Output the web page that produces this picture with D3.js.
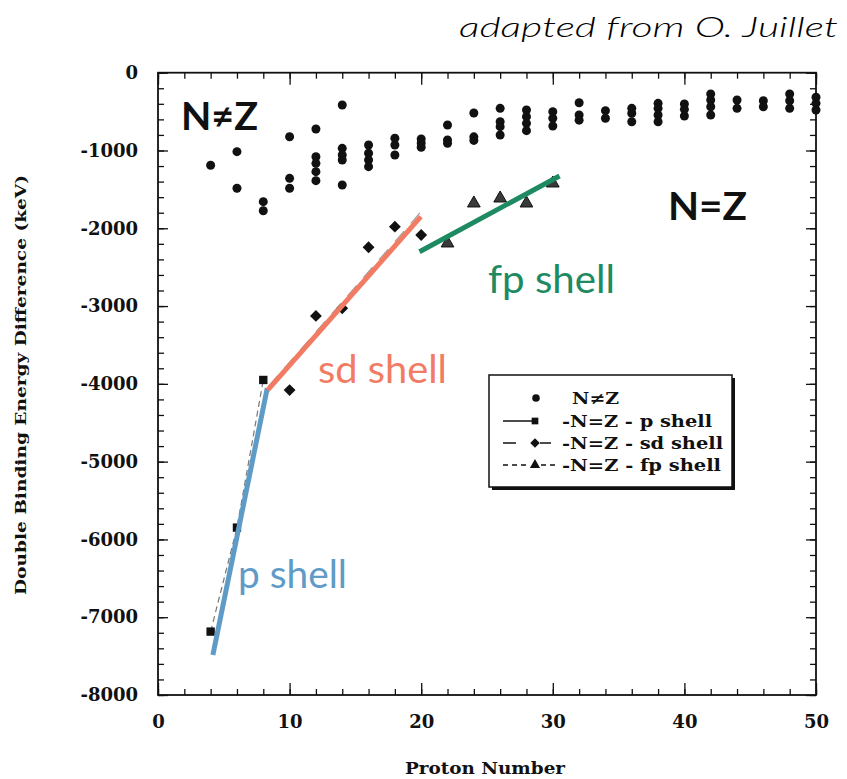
<!DOCTYPE html>
<html>
<head>
<meta charset="utf-8">
<script src="https://cdn.jsdelivr.net/npm/d3@7"></script>
<style>
  html, body { margin: 0; padding: 0; background: #fff; }
  svg { display: block; }
</style>
</head>
<body>
<svg id="chart" width="847" height="779"></svg>
<script>
// ---------- DATA ----------
// N != Z points: proton number and energy (keV)
const nzZ = [4, 6, 6, 8, 8, 10, 10, 10, 12, 12, 12, 12, 12, 14, 14, 14, 14, 14,
  16, 16, 16, 16, 18, 18, 18, 20, 20, 20, 22, 22, 22, 24, 24, 24, 26, 26, 26, 26,
  28, 28, 28, 28, 30, 30, 30, 32, 32, 32, 34, 34, 36, 36, 36, 38, 38, 38, 38,
  40, 40, 40, 42, 42, 42, 42, 44, 44, 46, 46, 48, 48, 48, 50, 50, 50];
const nzE = [-1190, -1015, -1486, -1658, -1774, -823, -1358, -1486, -724, -1080, -1165, -1272, -1388, -415, -972, -1058, -1122, -1443,
  -929, -1036, -1122, -1208, -843, -929, -1058, -852, -905, -959, -672, -865, -908, -518, -825, -870, -458, -630, -694, -801,
  -479, -565, -651, -745, -501, -586, -685, -386, -544, -610, -488, -586, -458, -522, -630, -394, -458, -544, -630,
  -402, -471, -557, -274, -351, -437, -544, -351, -458, -360, -437, -274, -360, -458, -316, -394, -479];
// N = Z p shell (squares)
const pZ = [4, 6, 8];
const pE = [-7185, -5848, -3950];
// N = Z sd shell (diamonds)
const sdZ = [10, 12, 14, 16, 18, 20];
const sdE = [-4080, -3127, -3029, -2244, -1979, -2086];
// N = Z fp shell (triangles)
const fpZ = [22, 24, 26, 28, 30];
const fpE = [-2193, -1679, -1615, -1679, -1422];
// original fit lines (black, mostly hidden)
const fitPZ = [4, 6, 8];        const fitPE = [-7185, -5848, -3950];
const fitSdZ = [8.4, 20.25];    const fitSdE = [-4030, -1735];
const fitFpZ = [20, 30.3];      const fitFpE = [-2270, -1360];
// coloured trend lines added on top
const bluZ = [4.17, 8.3];    const bluE = [-7485, -4057];
const salZ = [8.33, 19.97];  const salE = [-4080, -1851];
const grnZ = [19.87, 30.51]; const grnE = [-2301, -1328];
// axes
const xMajor = [0, 10, 20, 30, 40, 50];
const yMajor = [0, -1000, -2000, -3000, -4000, -5000, -6000, -7000, -8000];
const legendLabels = ["N\u2260Z", "-N=Z - p shell", "-N=Z - sd shell", "-N=Z - fp shell"];

// ---------- LAYOUT ----------
const svg = d3.select("#chart");
const L = 158, R = 816, T = 72.7, B = 695;
const x = d3.scaleLinear().domain([0, 50]).range([L, R]);
const y = d3.scaleLinear().domain([-8000, 0]).range([B, T]);
const serif = "'DejaVu Serif', serif";
const fmt = d => String(d);

const xMinor = d3.range(0, 50.01, 2);
const yMinor = d3.range(-8000, 0.01, 200);

function styleAxis(g) {
  g.select(".domain").remove();
  g.selectAll(".tick line").attr("stroke", "#111").attr("stroke-width", 1.3);
  g.selectAll(".tick text").attr("fill", "#111").attr("font-family", serif)
    .attr("font-weight", "bold").attr("font-size", 18);
}

// minor ticks
svg.append("g").attr("transform", `translate(${L},0)`)
  .call(d3.axisLeft(y).tickValues(yMinor).tickSize(-6).tickFormat(""))
  .call(styleAxis);
svg.append("g").attr("transform", `translate(${R},0)`)
  .call(d3.axisRight(y).tickValues(yMinor).tickSize(-6).tickFormat(""))
  .call(styleAxis);
svg.append("g").attr("transform", `translate(0,${B})`)
  .call(d3.axisBottom(x).tickValues(xMinor).tickSize(-6).tickFormat(""))
  .call(styleAxis);
svg.append("g").attr("transform", `translate(0,${T})`)
  .call(d3.axisTop(x).tickValues(xMinor).tickSize(-6).tickFormat(""))
  .call(styleAxis);
// major ticks with labels
svg.append("g").attr("transform", `translate(${L},0)`)
  .call(d3.axisLeft(y).tickValues(yMajor).tickSize(-10).tickPadding(20).tickFormat(fmt))
  .call(styleAxis);
svg.append("g").attr("transform", `translate(${R},0)`)
  .call(d3.axisRight(y).tickValues(yMajor).tickSize(-10).tickFormat(""))
  .call(styleAxis);
svg.append("g").attr("transform", `translate(0,${B})`)
  .call(d3.axisBottom(x).tickValues(xMajor).tickSize(-12).tickPadding(20).tickFormat(fmt))
  .call(styleAxis);
svg.append("g").attr("transform", `translate(0,${T})`)
  .call(d3.axisTop(x).tickValues(xMajor).tickSize(-12).tickFormat(""))
  .call(styleAxis);

// frame
svg.append("rect").attr("x", L).attr("y", T).attr("width", R - L).attr("height", B - T)
  .attr("fill", "none").attr("stroke", "#111").attr("stroke-width", 1.8);

// axis titles
svg.append("text").attr("transform", `translate(26,385) rotate(-90)`)
  .attr("text-anchor", "middle").attr("font-family", serif).attr("font-weight", "bold")
  .attr("font-size", 15.5).attr("fill", "#111")
  .attr("textLength", 420).attr("lengthAdjust", "spacingAndGlyphs")
  .text("Double Binding Energy Difference (keV)");
svg.append("text").attr("x", 485).attr("y", 774)
  .attr("text-anchor", "middle").attr("font-family", serif).attr("font-weight", "bold")
  .attr("font-size", 16).attr("fill", "#111")
  .attr("textLength", 160).attr("lengthAdjust", "spacingAndGlyphs")
  .text("Proton Number");

// source note
svg.append("text").attr("x", 838).attr("y", 37).attr("text-anchor", "end")
  .attr("font-family", "Lato, sans-serif").attr("font-style", "italic").attr("font-weight", 300)
  .attr("font-size", 28).attr("fill", "#000")
  .attr("textLength", 379).attr("lengthAdjust", "spacingAndGlyphs")
  .text("adapted from O. Juillet");

// original fit lines (faint, mostly hidden under the coloured lines)
const line = d3.line().x(d => x(d[0])).y(d => y(d[1]));
function pairs(a, b) { return a.map((v, i) => [v, b[i]]); }
svg.append("path").datum(pairs(fitPZ, fitPE)).attr("d", line)
  .attr("fill", "none").attr("stroke", "#777").attr("stroke-width", 1.2).attr("stroke-dasharray", "6,4");
svg.append("path").datum(pairs(fitSdZ, fitSdE)).attr("d", line)
  .attr("fill", "none").attr("stroke", "#999").attr("stroke-width", 1.1).attr("stroke-dasharray", "14,10");
svg.append("path").datum(pairs(fitFpZ, fitFpE)).attr("d", line)
  .attr("fill", "none").attr("stroke", "#999").attr("stroke-width", 1.1).attr("stroke-dasharray", "6,6");

// N != Z dots
svg.append("g").selectAll("circle").data(pairs(nzZ, nzE)).join("circle")
  .attr("cx", d => x(d[0])).attr("cy", d => y(d[1])).attr("r", 4.5).attr("fill", "#111");

// symbols
const sq = d3.symbol().type(d3.symbolSquare).size(70);
const tr = d3.symbol().type(d3.symbolTriangle).size(70);
svg.append("g").selectAll("path").data(pairs(pZ, pE)).join("path")
  .attr("transform", d => `translate(${x(d[0])},${y(d[1])})`).attr("d", sq).attr("fill", "#111");
svg.append("g").selectAll("path").data(pairs(sdZ, sdE)).join("path")
  .attr("transform", d => `translate(${x(d[0])},${y(d[1])}) rotate(45)`).attr("d", sq).attr("fill", "#111");
svg.append("g").selectAll("path").data(pairs(fpZ, fpE)).join("path")
  .attr("transform", d => `translate(${x(d[0])},${y(d[1])})`).attr("d", tr)
  .attr("fill", "#3a3a3a").attr("stroke", "#111").attr("stroke-width", 1);

// coloured trend lines
const blue = "#5f9bc7", salmon = "#f27b64", green = "#1d8a62";
svg.append("path").datum(pairs(bluZ, bluE)).attr("d", line)
  .attr("fill", "none").attr("stroke", blue).attr("stroke-width", 5);
svg.append("path").datum(pairs(salZ, salE)).attr("d", line)
  .attr("fill", "none").attr("stroke", salmon).attr("stroke-width", 5);
svg.append("path").datum(pairs(grnZ, grnE)).attr("d", line)
  .attr("fill", "none").attr("stroke", green).attr("stroke-width", 5);

// annotations
const hand = "Lato, 'Noto Sans', sans-serif";
function note(tx, px, py, col, len, wt) {
  svg.append("text").attr("x", px).attr("y", py).attr("font-family", hand)
    .attr("font-weight", wt).attr("font-size", 38).attr("fill", col)
    .attr("textLength", len).attr("lengthAdjust", "spacingAndGlyphs").text(tx);
}
note("N\u2260Z", 181, 129.5, "#111", 77, 700);
note("N=Z", 668, 220, "#111", 79, 700);
note("fp shell", 488, 293, green, 127, 400);
note("sd shell", 318, 383, salmon, 129, 400);
note("p shell", 238, 588, blue, 109, 400);

// legend
const lg = svg.append("g");
lg.append("rect").attr("x", 492).attr("y", 378).attr("width", 243).attr("height", 112).attr("fill", "#111");
lg.append("rect").attr("x", 489).attr("y", 375).attr("width", 243).attr("height", 112)
  .attr("fill", "#fff").attr("stroke", "#111").attr("stroke-width", 1.5);
const rowY = [398, 421, 443, 465];
lg.append("circle").attr("cx", 536).attr("cy", rowY[0]).attr("r", 3.8).attr("fill", "#111");
lg.append("line").attr("x1", 503).attr("x2", 533).attr("y1", rowY[1]).attr("y2", rowY[1])
  .attr("stroke", "#111").attr("stroke-width", 1.5);
lg.append("path").attr("transform", `translate(535,${rowY[1]})`).attr("d", d3.symbol().type(d3.symbolSquare).size(45)).attr("fill", "#111");
lg.append("line").attr("x1", 503).attr("x2", 516).attr("y1", rowY[2]).attr("y2", rowY[2])
  .attr("stroke", "#111").attr("stroke-width", 1.5);
lg.append("line").attr("x1", 540).attr("x2", 551).attr("y1", rowY[2]).attr("y2", rowY[2])
  .attr("stroke", "#111").attr("stroke-width", 1.5);
lg.append("path").attr("transform", `translate(535,${rowY[2]}) rotate(45)`).attr("d", d3.symbol().type(d3.symbolSquare).size(45)).attr("fill", "#111");
lg.append("line").attr("x1", 503).attr("x2", 530).attr("y1", rowY[3]).attr("y2", rowY[3])
  .attr("stroke", "#111").attr("stroke-width", 1.5).attr("stroke-dasharray", "5,4");
lg.append("line").attr("x1", 541).attr("x2", 557).attr("y1", rowY[3]).attr("y2", rowY[3])
  .attr("stroke", "#111").attr("stroke-width", 1.5).attr("stroke-dasharray", "5,4");
lg.append("path").attr("transform", `translate(535,${rowY[3]})`).attr("d", d3.symbol().type(d3.symbolTriangle).size(45)).attr("fill", "#111");
const lx = [572, 562, 562, 562];
const lLen = [47, 150, 161, 159];
lg.selectAll("text.lt").data(legendLabels).join("text").attr("class", "lt")
  .attr("x", (d, i) => lx[i]).attr("y", (d, i) => rowY[i]).attr("dy", "0.36em")
  .attr("font-family", serif).attr("font-weight", "bold").attr("font-size", 16).attr("fill", "#111")
  .attr("textLength", (d, i) => lLen[i]).attr("lengthAdjust", "spacingAndGlyphs")
  .text(d => d);
</script>
</body>
</html>
